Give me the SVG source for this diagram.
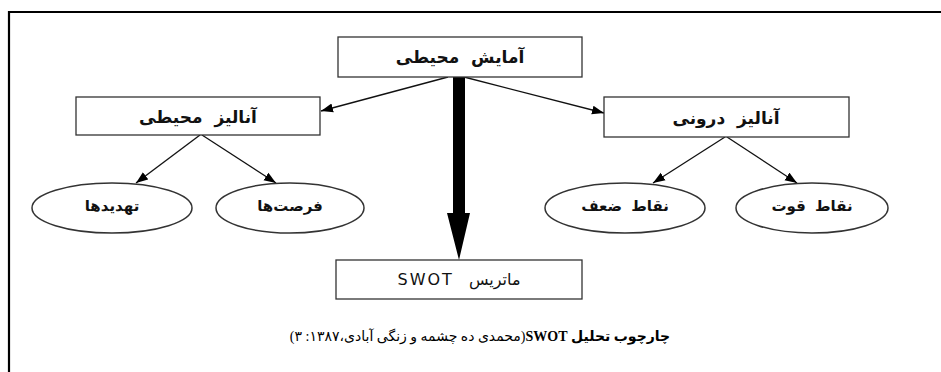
<svg xmlns="http://www.w3.org/2000/svg" width="941" height="372" viewBox="0 0 941 372">
<defs>
<marker id="ah" viewBox="0 0 12 10" refX="12" refY="5" markerWidth="12" markerHeight="10" markerUnits="userSpaceOnUse" orient="auto">
<path d="M0,0.5 L12,5 L0,9.5 Z" fill="#000"/>
</marker>
<style>
.box{fill:#fff;stroke:#333;stroke-width:1.3}
.ell{fill:#fff;stroke:#333;stroke-width:1.5}
.t{font-family:"DejaVu Sans",sans-serif;font-weight:bold;fill:#111;text-anchor:middle}
.bt{font-size:17px;word-spacing:6px}
.et{font-size:15px;word-spacing:4px}
.ln{stroke:#111;stroke-width:1.3;fill:none;marker-end:url(#ah)}
</style>
</defs>
<rect width="941" height="372" fill="#fff"/>
<path d="M9,372 V12 H941" fill="none" stroke="#000" stroke-width="2.2"/>
<g id="connectors">
<line class="ln" x1="448" y1="77" x2="321" y2="111"/>
<line class="ln" x1="464" y1="77" x2="604" y2="113"/>
<line class="ln" x1="200" y1="135" x2="136" y2="183"/>
<line class="ln" x1="202" y1="135" x2="276" y2="183"/>
<line class="ln" x1="725" y1="137" x2="653" y2="183"/>
<line class="ln" x1="727" y1="137" x2="797" y2="183"/>
<path d="M453,77 H465 V213 H470 L459,260 L447,213 H453 Z" fill="#000"/>
</g>
<g id="n-top"><rect class="box" x="338" y="37" width="244" height="40"/><text class="t bt" x="460" y="63" direction="rtl">آمایش محیطی</text></g>
<g id="n-env"><rect class="box" x="76" y="97" width="244" height="38"/><text class="t bt" x="198" y="123" direction="rtl">آنالیز محیطی</text></g>
<g id="n-int"><rect class="box" x="604" y="97" width="245" height="40"/><text class="t bt" x="726" y="124" direction="rtl">آنالیز درونی</text></g>
<g id="n-threat"><ellipse class="ell" cx="112" cy="208" rx="80" ry="25"/><text class="t et" x="112" y="211" direction="rtl">تهدیدها</text></g>
<g id="n-opp"><ellipse class="ell" cx="290" cy="208" rx="74" ry="25"/><text class="t et" x="290" y="211" direction="rtl">فرصت‌ها</text></g>
<g id="n-weak"><ellipse class="ell" cx="625" cy="208" rx="80" ry="25"/><text class="t et" x="625" y="211" direction="rtl">نقاط ضعف</text></g>
<g id="n-str"><ellipse class="ell" cx="812" cy="208" rx="76" ry="25"/><text class="t et" x="812" y="211" direction="rtl">نقاط قوت</text></g>
<g id="n-swot"><rect class="box" x="336" y="260" width="246" height="39"/><text class="t" x="459" y="285" direction="rtl" style="font-weight:normal;font-size:16px;word-spacing:10px">ماتریس <tspan style="letter-spacing:2px">SWOT</tspan></text></g>
<text x="480" y="341" direction="rtl" text-anchor="middle" font-family="'Liberation Serif','DejaVu Sans',serif" font-size="14" fill="#000"><tspan font-weight="bold">چارچوب تحلیل SWOT</tspan>(محمدی ده چشمه و زنگی آبادی،۱۳۸۷: ۳)</text>
</svg>
